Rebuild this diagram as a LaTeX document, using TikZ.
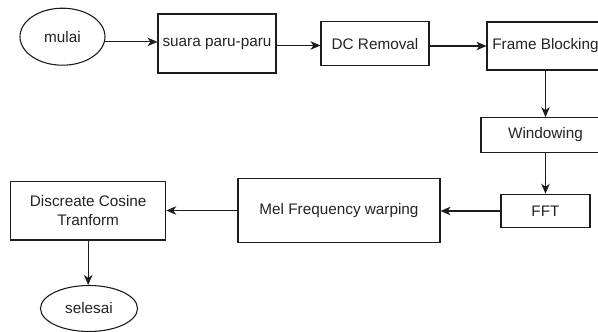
\documentclass[tikz,border=0pt]{standalone}
\usepackage{fontspec}
\setmainfont{Liberation Sans}
\usetikzlibrary{shapes.geometric,arrows.meta}
\definecolor{ink}{RGB}{28,28,28}
\definecolor{txt}{RGB}{34,34,40}
\tikzset{
  stepbox/.style={draw=ink, line width=1.1pt, rectangle, inner sep=0pt,
    text=txt, align=center, font=\fontsize{15.3}{19}\selectfont},
  terminal/.style={draw=ink, line width=1.1pt, ellipse, inner sep=0pt,
    text=txt, font=\fontsize{15.3}{19}\selectfont},
  flow/.style={draw=ink, line width=1.1pt,
    -{Stealth[length=10pt,width=8.5pt,inset=3pt]}}
}
\begin{document}
\begin{tikzpicture}[x=1pt,y=-1pt]
  \useasboundingbox (0,0) rectangle (598,332);
  \clip (0,0) rectangle (598,332);

  % start / end terminals
  \node[terminal, minimum width=85pt, minimum height=57pt] (mulai) at (62.5,36.7) {mulai};
  \node[terminal, minimum width=97pt, minimum height=46pt] (selesai) at (89,308.5) {selesai};

  % processing steps
  \node[stepbox, minimum width=118pt, minimum height=59pt] (suara) at (217,43.5) {suara paru-paru};
  \node[stepbox, minimum width=108pt, minimum height=44pt] (dc) at (375,43.7) {DC Removal};
  \node[stepbox, minimum width=117pt, minimum height=48pt] (frame) at (545.5,46) {Frame Blocking};
  \node[stepbox, minimum width=129pt, minimum height=34.6pt] (win) at (545.5,135) {Windowing};
  \node[stepbox, minimum width=89pt, minimum height=33.4pt] (fft) at (545.5,211) {FFT};
  \node[stepbox, minimum width=202pt, minimum height=64.4pt] (mel) at (339,210.5) {Mel Frequency warping};
  \node[stepbox, minimum width=155pt, minimum height=58.3pt] (dct) at (88.2,210.8) {Discreate Cosine\\Tranform};

  % connectors
  \coordinate (suaraout) at ([yshift=-2pt]suara.east);
  \draw[flow] (mulai.-7) -- (suara.west |- mulai.-7);
  \draw[flow] (suaraout) -- (dc.west |- suaraout);
  \draw[flow] (dc.east |- frame.west) -- (frame.west);
  \draw[flow] (frame.south) -- (win.north);
  \draw[flow] (win.south) -- (fft.north);
  \draw[flow] (fft.west) -- (mel.east |- fft.west);
  \draw[flow] (mel.west) -- (dct.east |- mel.west);
  \draw[flow] (dct.south) -- (selesai.north -| dct.south);
\end{tikzpicture}
\end{document}
